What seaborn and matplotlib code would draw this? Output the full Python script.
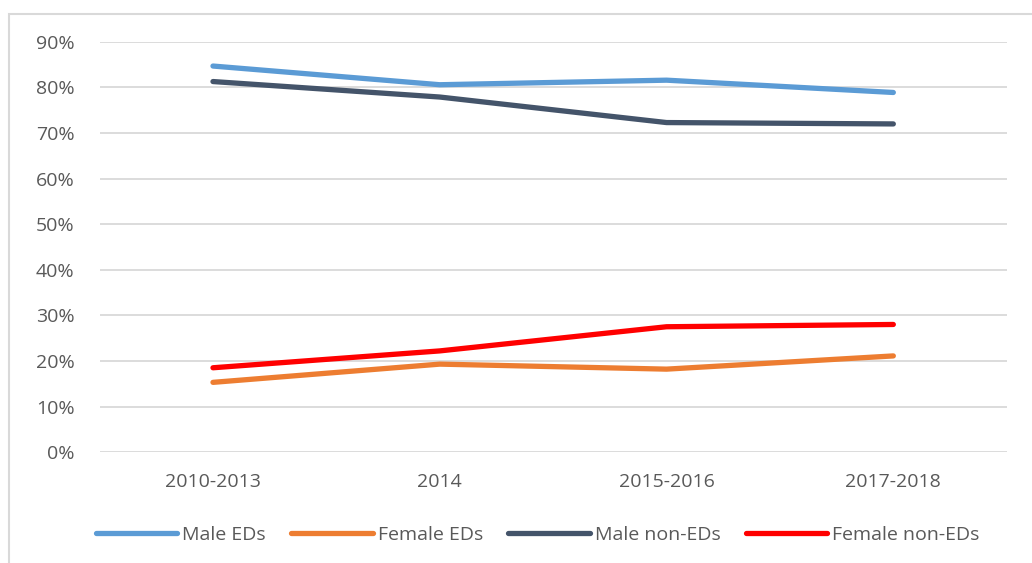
import pandas as pd
import numpy as np
import matplotlib
matplotlib.use('Agg')
import matplotlib.pyplot as plt
import seaborn as sns
from matplotlib.patches import Rectangle

# Data
periods = ['2010-2013', '2014', '2015-2016', '2017-2018']
male_eds = [0.847, 0.806, 0.816, 0.789]
female_eds = [0.153, 0.193, 0.182, 0.211]
male_non_eds = [0.813, 0.779, 0.723, 0.720]
female_non_eds = [0.185, 0.222, 0.275, 0.280]

series = ['Male EDs', 'Female EDs', 'Male non-EDs', 'Female non-EDs']
colors = ['#5B9BD5', '#ED7D31', '#44546A', '#FF0000']

df = pd.DataFrame({
    'period': periods * 4,
    'share': male_eds + female_eds + male_non_eds + female_non_eds,
    'group': np.repeat(series, len(periods)),
})

sns.set_style('white')
plt.rcParams['font.family'] = ['Open Sans', 'DejaVu Sans']

fig = plt.figure(figsize=(10.32, 5.63), dpi=100)
ax = fig.add_axes([0.0965, 0.197, 0.879, 0.7286])

sns.lineplot(data=df, x='period', y='share', hue='group', hue_order=series,
             palette=colors, linewidth=3.8, sort=False, ax=ax,
             solid_capstyle='round')

ax.set_xlim(-0.5, 3.5)
ax.set_ylim(0, 0.9)
ax.set_yticks(np.arange(0, 0.91, 0.1))
ax.set_yticklabels([f'{int(round(v * 100))}%' for v in np.arange(0, 0.91, 0.1)])
ax.grid(axis='y', color='#D9D9D9', linewidth=1.3)
ax.set_axisbelow(True)
for s in ax.spines.values():
    s.set_visible(False)
ax.tick_params(axis='both', length=0, labelsize=14, colors='#595959')
ax.tick_params(axis='y', pad=18)
ax.tick_params(axis='x', pad=15)
ax.set_xlabel('')
ax.set_ylabel('')

ax.legend(loc='upper center', bbox_to_anchor=(0.483, -0.137), ncol=4, frameon=False,
          fontsize=14, handlelength=4.2, handletextpad=0.25, columnspacing=1.3,
          labelcolor='#595959')

# outer chart frame
fig.patches.append(Rectangle((9 / 1032, -0.01), 1.0, 1 - 14 / 563 + 0.01,
                             transform=fig.transFigure, fill=False,
                             edgecolor='#D9D9D9', linewidth=1.5))

fig.savefig('out.png', dpi=100)
